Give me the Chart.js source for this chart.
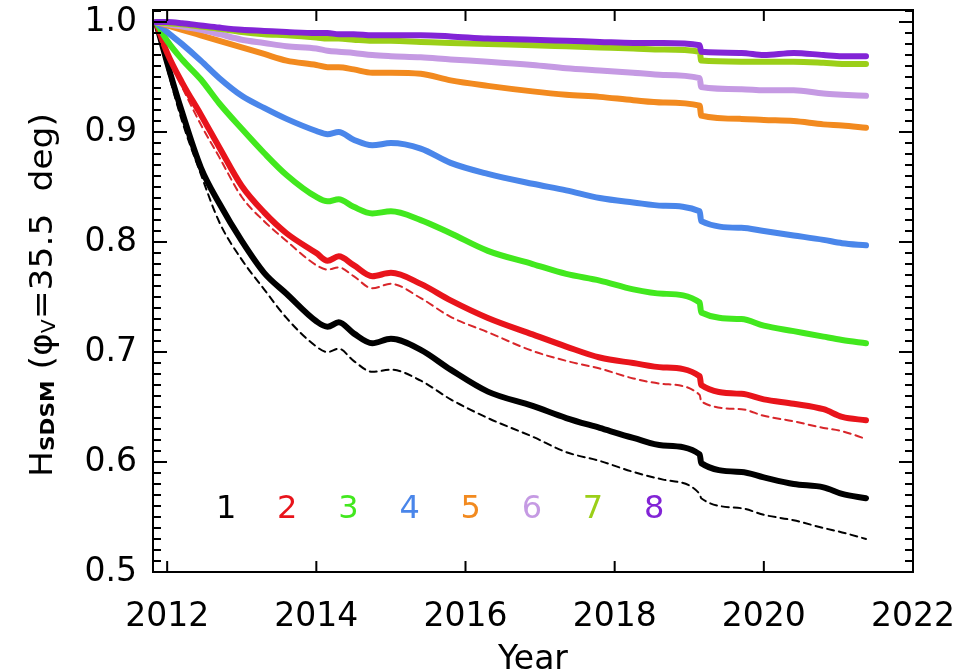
<!DOCTYPE html>
<html>
<head>
<meta charset="utf-8">
<script src="https://cdn.jsdelivr.net/npm/chart.js@4.4.0/dist/chart.umd.min.js"></script>
<style>
    html, body { margin: 0; padding: 0; background: #fff; }
    #wrap { width: 978px; height: 672px; }
</style>
</head>
<body>
<div id="wrap"><canvas id="hChart" width="978" height="672"></canvas></div>
<script>
// sample times (decimal year), shared by all curves
const years = [2011.85, 2012.0, 2012.2, 2012.45, 2012.7, 2013.0, 2013.3, 2013.6, 2014.0, 2014.15,
    2014.3, 2014.5, 2014.75, 2015.0, 2015.4, 2015.8, 2016.3, 2016.9, 2017.35, 2017.8,
    2018.25, 2018.65, 2019.14, 2019.16, 2019.7, 2020.0, 2020.4, 2020.8, 2021.05, 2021.37];

const band1 = [1.000, 0.963, 0.918, 0.868, 0.835, 0.801, 0.772, 0.753, 0.728, 0.723,
    0.727, 0.717, 0.708, 0.712, 0.702, 0.684, 0.664, 0.651, 0.640, 0.631,
    0.622, 0.615, 0.607, 0.599, 0.591, 0.586, 0.580, 0.577, 0.571, 0.567];
const band1Alt = [1.000, 0.958, 0.910, 0.862, 0.818, 0.784, 0.757, 0.731, 0.705, 0.700,
    0.703, 0.692, 0.682, 0.684, 0.674, 0.657, 0.640, 0.623, 0.609, 0.601,
    0.591, 0.584, 0.571, 0.567, 0.558, 0.552, 0.547, 0.540, 0.536, 0.530];
const band2 = [1.000, 0.972, 0.945, 0.916, 0.886, 0.851, 0.827, 0.808, 0.790, 0.783,
    0.787, 0.779, 0.769, 0.772, 0.762, 0.747, 0.731, 0.716, 0.705, 0.695,
    0.690, 0.686, 0.678, 0.670, 0.662, 0.657, 0.653, 0.648, 0.641, 0.638];
const band2Alt = [1.000, 0.970, 0.941, 0.907, 0.877, 0.841, 0.819, 0.801, 0.779, 0.775,
    0.777, 0.769, 0.758, 0.762, 0.749, 0.732, 0.718, 0.701, 0.692, 0.685,
    0.676, 0.671, 0.661, 0.655, 0.648, 0.642, 0.637, 0.631, 0.628, 0.621];
const band3 = [1.000, 0.983, 0.966, 0.948, 0.926, 0.903, 0.881, 0.861, 0.841, 0.837,
    0.839, 0.832, 0.826, 0.828, 0.820, 0.808, 0.792, 0.780, 0.771, 0.765,
    0.757, 0.753, 0.745, 0.736, 0.730, 0.724, 0.719, 0.714, 0.711, 0.708];
const band4 = [1.000, 0.991, 0.980, 0.965, 0.949, 0.933, 0.922, 0.912, 0.901, 0.898,
    0.900, 0.893, 0.888, 0.890, 0.885, 0.872, 0.862, 0.853, 0.847, 0.840,
    0.836, 0.833, 0.828, 0.819, 0.813, 0.810, 0.806, 0.802, 0.799, 0.797];
const band5 = [1.000, 0.997, 0.993, 0.988, 0.983, 0.977, 0.971, 0.965, 0.961, 0.959,
    0.959, 0.957, 0.954, 0.954, 0.953, 0.947, 0.942, 0.937, 0.934, 0.932,
    0.929, 0.927, 0.924, 0.915, 0.912, 0.911, 0.910, 0.907, 0.906, 0.904];
const band6 = [1.000, 0.998, 0.996, 0.993, 0.989, 0.984, 0.981, 0.978, 0.976, 0.974,
    0.973, 0.972, 0.970, 0.969, 0.968, 0.966, 0.964, 0.961, 0.958, 0.956,
    0.954, 0.952, 0.949, 0.941, 0.939, 0.938, 0.938, 0.935, 0.934, 0.933];
const band7 = [1.000, 0.999, 0.998, 0.996, 0.994, 0.991, 0.989, 0.988, 0.986, 0.985,
    0.985, 0.984, 0.983, 0.983, 0.982, 0.981, 0.980, 0.979, 0.978, 0.977,
    0.976, 0.975, 0.973, 0.965, 0.964, 0.964, 0.964, 0.963, 0.962, 0.962];
const band8 = [1.000, 1.000, 0.999, 0.997, 0.995, 0.993, 0.992, 0.991, 0.990, 0.990,
    0.989, 0.989, 0.988, 0.988, 0.988, 0.987, 0.985, 0.984, 0.983, 0.982,
    0.981, 0.981, 0.979, 0.973, 0.972, 0.970, 0.972, 0.970, 0.969, 0.969];

const bandNames = ['1', '2', '3', '4', '5', '6', '7', '8'];
const bandColors = ['#000000', '#e8141b', '#42e81e', '#4a86ea', '#f28a1f', '#c59ae3', '#9bcf18', '#8224d6'];

const xTicks = [2012, 2014, 2016, 2018, 2020, 2022];
const yTicks = [0.5, 0.6, 0.7, 0.8, 0.9, 1.0];

const FONT = 'DejaVu Sans';

function pts(arr) {
    return years.map((yr, i) => ({ x: yr, y: arr[i] }));
}

const solid = [band1, band2, band3, band4, band5, band6, band7, band8];
const datasets = [];
datasets.push({ data: pts(band1Alt), borderColor: '#000000', borderWidth: 2, borderDash: [7, 5], order: 20 });
datasets.push({ data: pts(band2Alt), borderColor: '#d8262a', borderWidth: 2, borderDash: [7, 5], order: 20 });
solid.forEach((arr, i) => {
    datasets.push({ data: pts(arr), borderColor: bandColors[i], borderWidth: 6, order: 10 - i });
});

// box, inward ticks, numbered key and the y title
const framePlugin = {
    id: 'frame',
    afterDraw(chart) {
        const { ctx, chartArea: a, scales: { x, y } } = chart;
        ctx.save();
        ctx.strokeStyle = '#000';
        ctx.lineWidth = 2;
        ctx.strokeRect(a.left, a.top, a.right - a.left, a.bottom - a.top);

        ctx.beginPath();
        xTicks.forEach(v => {
            const px = x.getPixelForValue(v);
            ctx.moveTo(px, a.bottom); ctx.lineTo(px, a.bottom - 11);
            ctx.moveTo(px, a.top); ctx.lineTo(px, a.top + 11);
        });
        for (let i = 50; i <= 101; i++) {
            const py = y.getPixelForValue(i / 100);
            if (py < a.top) continue;
            const len = i % 10 === 0 ? 14 : 8;
            ctx.moveTo(a.left, py); ctx.lineTo(a.left + len, py);
            ctx.moveTo(a.right, py); ctx.lineTo(a.right - len, py);
        }
        ctx.stroke();

        // numbered key
        ctx.font = '32px "' + FONT + '"';
        ctx.textAlign = 'center';
        ctx.textBaseline = 'middle';
        bandNames.forEach((t, i) => {
            ctx.fillStyle = bandColors[i];
            ctx.fillText(t, x.getPixelForValue(2012.79 + i * 0.82), y.getPixelForValue(0.557));
        });

        // y title with subscripts
        const parts = [
            { t: 'H', f: '32px "' + FONT + '"', dy: 0 },
            { t: 'SDSM', f: 'bold 20px "' + FONT + '"', dy: 2 },
            { t: ' (', f: '32px "' + FONT + '"', dy: 0 },
            { t: '\u03C6', f: '32px "' + FONT + '"', dy: 0 },
            { t: 'V', f: '19px "' + FONT + '"', dy: 3 },
            { t: '=35.5  deg)', f: '32px "' + FONT + '"', dy: 0 }
        ];
        let total = 0;
        parts.forEach(p => { ctx.font = p.f; p.w = ctx.measureText(p.t).width; total += p.w; });
        const stretch = 364 / total;
        ctx.translate(52, (a.top + a.bottom) / 2 + 4);
        ctx.rotate(-Math.PI / 2);
        ctx.scale(stretch, 1);
        ctx.fillStyle = '#000';
        ctx.textAlign = 'left';
        ctx.textBaseline = 'alphabetic';
        let cx = -total / 2;
        parts.forEach(p => {
            ctx.font = p.f;
            ctx.fillText(p.t, cx, p.dy);
            cx += p.w;
        });
        ctx.restore();
    }
};

new Chart(document.getElementById('hChart'), {
    type: 'line',
    data: { datasets: datasets },
    options: {
        responsive: false,
        animation: false,
        devicePixelRatio: 1,
        layout: { padding: { left: 0, top: 10, right: 65, bottom: 0 } },
        elements: {
            point: { radius: 0 },
            line: { cubicInterpolationMode: 'monotone', fill: false, borderCapStyle: 'round' }
        },
        plugins: {
            legend: { display: false },
            tooltip: { enabled: false }
        },
        scales: {
            x: {
                type: 'linear',
                min: 2011.81,
                max: 2022,
                bounds: 'data',
                grid: { display: false, drawTicks: false },
                border: { display: false },
                afterBuildTicks: s => { s.ticks = xTicks.map(v => ({ value: v })); },
                afterFit: s => { s.height = 100; s.paddingLeft = 0; s.paddingRight = 0; },
                ticks: {
                    autoSkip: false,
                    maxRotation: 0,
                    padding: 26,
                    color: '#000',
                    font: { family: FONT, size: 33 },
                    callback: v => String(v)
                },
                title: {
                    display: true,
                    text: 'Year',
                    color: '#000',
                    font: { family: FONT, size: 33, lineHeight: 0.7 },
                    padding: { top: 0, bottom: 0 }
                }
            },
            y: {
                type: 'linear',
                min: 0.5,
                max: 1.011,
                bounds: 'data',
                grid: { display: false, drawTicks: false },
                border: { display: false },
                afterBuildTicks: s => { s.ticks = yTicks.map(v => ({ value: v })); },
                afterFit: s => { s.width = 153; s.paddingTop = 0; s.paddingBottom = 0; },
                ticks: {
                    autoSkip: false,
                    padding: 16,
                    color: '#000',
                    font: { family: FONT, size: 33 },
                    callback: v => v.toFixed(1)
                }
            }
        }
    },
    plugins: [framePlugin]
});
</script>
</body>
</html>
